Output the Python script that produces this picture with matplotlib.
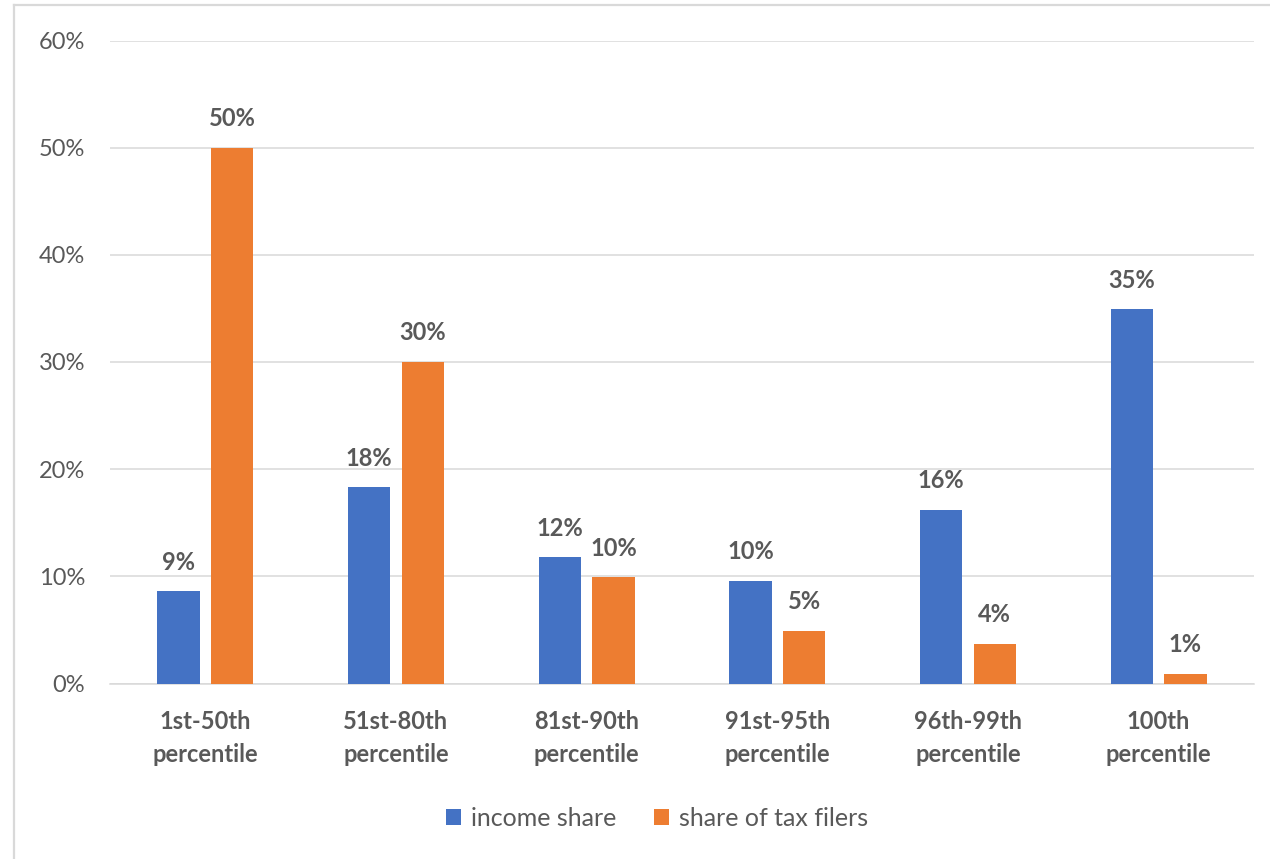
import matplotlib
matplotlib.use("Agg")
import matplotlib.pyplot as plt
from matplotlib.ticker import PercentFormatter, MultipleLocator
from matplotlib.lines import Line2D
from matplotlib.patches import Patch
import numpy as np

# Income distribution by percentile group
categories = [
    "1st-50th\npercentile",
    "51st-80th\npercentile",
    "81st-90th\npercentile",
    "91st-95th\npercentile",
    "96th-99th\npercentile",
    "100th\npercentile",
]
income_share = [8.6, 18.3, 11.8, 9.6, 16.2, 34.9]
tax_filer_share = [50.0, 30.0, 9.9, 4.9, 3.7, 0.9]
series_names = ["income share", "share of tax filers"]

BLUE = "#4472C4"
ORANGE = "#ED7D31"
TEXT = "#595959"
GRID = "#D9D9D9"

plt.rcParams["font.family"] = ["Lato", "DejaVu Sans"]

W, H = 1270, 859
fig = plt.figure(figsize=(W / 100, H / 100), dpi=100)
fig.patch.set_facecolor("white")

# chart-area border (top and left edges)
fig.add_artist(Line2D([14 / W, 14 / W], [0, 1 - 5 / H], color=GRID, lw=1.6,
                      transform=fig.transFigure))
fig.add_artist(Line2D([14 / W, 1], [1 - 5 / H, 1 - 5 / H], color=GRID, lw=1.6,
                      transform=fig.transFigure))

left, right = 110 / W, 1254 / W
bottom, top = 1 - 683.5 / H, 1 - 40.5 / H
ax = fig.add_axes([left, bottom, right - left, top - bottom])

x = np.arange(len(categories))
width = 0.222
offset = 0.1406

b1 = ax.bar(x - offset, income_share, width, color=BLUE, zorder=3)
b2 = ax.bar(x + offset, tax_filer_share, width, color=ORANGE, zorder=3)

for bars, vals in ((b1, income_share), (b2, tax_filer_share)):
    for rect, v in zip(bars, vals):
        ax.annotate(f"{v:.0f}%",
                    (rect.get_x() + rect.get_width() / 2, v),
                    xytext=(0, 15.5), textcoords="offset points",
                    ha="center", va="baseline", fontsize=17,
                    fontweight="bold", color=TEXT)

ax.set_xlim(-0.5, len(categories) - 0.5)
ax.set_ylim(0, 60)
ax.yaxis.set_major_locator(MultipleLocator(10))
ax.yaxis.set_major_formatter(PercentFormatter(xmax=100, decimals=0))
ax.grid(axis="y", color=GRID, lw=1.1, zorder=0)
ax.set_axisbelow(True)

for side in ("top", "right", "left"):
    ax.spines[side].set_visible(False)
ax.spines["bottom"].set_color(GRID)
ax.spines["bottom"].set_linewidth(1.1)

ax.set_xticks(x)
ax.set_xticklabels(categories, fontsize=17, fontweight="bold", color=TEXT,
                   linespacing=1.55)
ax.tick_params(axis="x", length=0, pad=19)
ax.tick_params(axis="y", length=0, pad=18, labelsize=17, labelcolor=TEXT)

handles = [Patch(facecolor=BLUE), Patch(facecolor=ORANGE)]
fig.legend(handles, series_names, loc="center",
           bbox_to_anchor=(657 / W, 1 - 818 / H), ncol=2, frameon=False,
           fontsize=18, labelcolor=TEXT, handlelength=0.6, handleheight=0.6,
           handletextpad=0.4, columnspacing=1.5)

fig.savefig("out.png", dpi=100, facecolor="white")
